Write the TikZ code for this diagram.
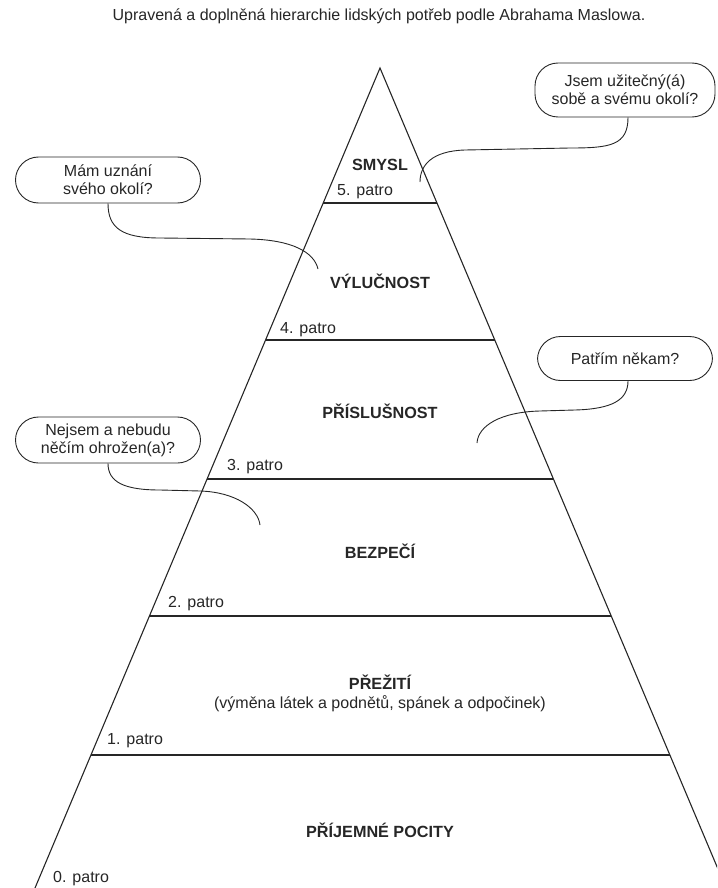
\documentclass[tikz,border=0pt]{standalone}
\usepackage{fontspec}
\setmainfont{Liberation Sans}
\usetikzlibrary{calc}
\definecolor{ink}{HTML}{262626}
\tikzset{
  edge/.style={draw=ink, line width=1.1pt},
  link/.style={draw=ink, line width=0.9pt},
  level/.style={font=\fontsize{16.2}{18}\selectfont\bfseries, text=ink, inner sep=0pt},
  floor/.style={font=\fontsize{16}{18}\selectfont, text=ink, anchor=base west, inner sep=0pt},
  bubble/.style={draw=ink, line width=0.9pt, rounded corners=23pt, align=center,
                 font=\fontsize{16}{18}\selectfont, text=ink, inner sep=0pt},
}
\begin{document}
\begin{tikzpicture}[x=1pt,y=-1pt]
\clip (0,0) rectangle (717,888);

% caption
\node[font=\fontsize{16}{18}\selectfont, text=ink] (title) at (379,16)
  {Upravená a doplněná hierarchie lidských potřeb podle Abrahama Maslowa.};

% pyramid outline
\coordinate (apex) at (380,68);
\coordinate (bl) at (35,888);
\coordinate (br) at (726,888);
\draw[edge] (bl) -- (apex) -- (br);
\draw[draw=ink!40, line width=0.8pt] ([yshift=-1.5pt]bl) -- ([yshift=-1.5pt]br);

% floor dividers
\foreach \t/\n in {0.1646/5,0.3317/4,0.5012/3,0.6683/2,0.8378/1}{
  \coordinate (L\n) at ($(apex)!\t!(bl)$);
  \coordinate (R\n) at ($(apex)!\t!(br)$);
  \draw[edge] (L\n) -- (R\n);
}

% level names
\node[level] (smysl) at (380,165) {SMYSL};
\node[level] (vyl) at (380,281.5) {VÝLUČNOST};
\node[level] (pris) at (380,411) {PŘÍSLUŠNOST};
\node[level] (bezp) at (380,551) {BEZPEČÍ};
\node[level] (prez) at (380,682) {PŘEŽITÍ};
\node[font=\fontsize{16}{18}\selectfont, text=ink, inner sep=0pt] (prezsub) at (380,704)
  {(výměna látek a podnětů, spánek a odpočinek)};
\node[level] (prij) at (380,830) {PŘÍJEMNÉ POCITY};

% floor numbers
\node[floor] (p5) at (337,195) {5. patro};
\node[floor] (p4) at (280,333) {4. patro};
\node[floor] (p3) at (227,470) {3. patro};
\node[floor] (p2) at (168,607) {2. patro};
\node[floor] (p1) at (107,744) {1. patro};
\node[floor] (p0) at (53,882) {0. patro};

% question bubbles
\node[bubble, minimum width=180pt, minimum height=54pt] (q5) at (625,90)
  {Jsem užitečný(á)\\sobě a svému okolí?};
\node[bubble, minimum width=185pt, minimum height=46pt] (q4) at (108,180)
  {Mám uznání\\svého okolí?};
\node[bubble, minimum width=175pt, minimum height=44pt] (q3) at (625,358.5)
  {Patřím někam?};
\node[bubble, minimum width=185pt, minimum height=46pt] (q2) at (108,440)
  {Nejsem a nebudu\\něčím ohrožen(a)?};

% leader curves
\coordinate (e5) at (420,182);
\coordinate (e4) at (318,269);
\coordinate (e3) at (477,443);
\coordinate (e2) at (260,525);
\draw[link] ([xshift=3pt]q5.south) .. controls +(0,28) and (610,148) .. (570,148)
  -- (465,150) .. controls (432,151) and (420,165) .. (e5);
\draw[link] (q4.south) .. controls (108,228) and (122,238) .. (160,238)
  -- (250,239) .. controls (292,240) and (314,252) .. (e4);
\draw[link] ([xshift=3pt]q3.south) .. controls (628,400) and (612,409) .. (575,410)
  -- (540,411) .. controls (500,412) and (478,426) .. (e3);
\draw[link] (q2.south) .. controls (108,482) and (124,490) .. (160,490)
  -- (200,491) .. controls (235,492) and (258,508) .. (e2);
\end{tikzpicture}
\end{document}
